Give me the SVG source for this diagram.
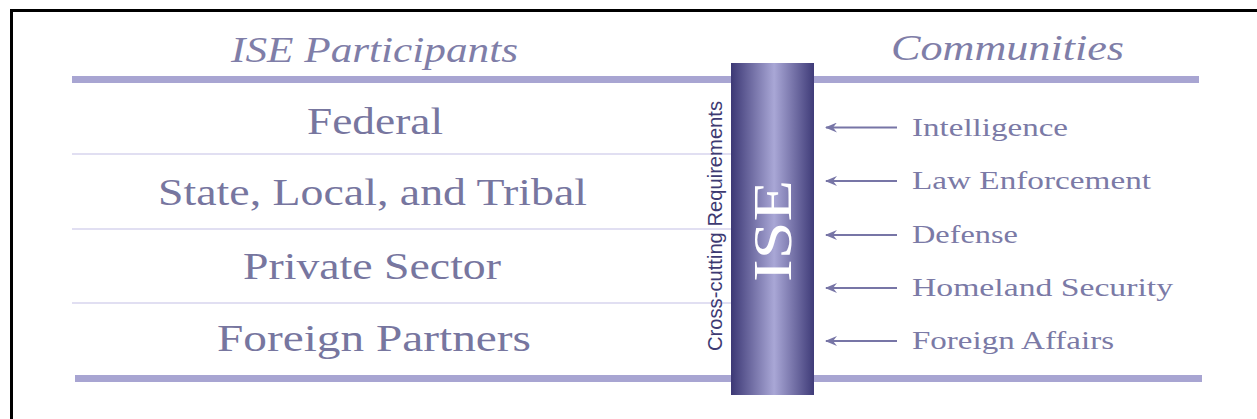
<svg xmlns="http://www.w3.org/2000/svg" width="1257" height="419" viewBox="0 0 1257 419">
  <defs>
    <linearGradient id="colGrad" x1="0" y1="0" x2="1" y2="0">
      <stop offset="0" stop-color="#3c3875"/>
      <stop offset="0.52" stop-color="#a9a7d6"/>
      <stop offset="1" stop-color="#3f3b78"/>
    </linearGradient>
    <marker id="arrow" viewBox="0 0 12 10" refX="1" refY="5" markerWidth="12" markerHeight="10" markerUnits="userSpaceOnUse" orient="auto">
      <path d="M12,0 L0,5 L12,10 L8,5 Z" fill="#7775a6"/>
    </marker>
  </defs>
  <style>
    .frame { stroke: #000; stroke-width: 3; fill: none; }
    .thick { stroke: #a8a5d2; stroke-width: 7; }
    .thin { stroke: #e1dff2; stroke-width: 2; }
    .hdr { font-family: "Liberation Serif", serif; font-style: italic; font-size: 36px; fill: #7f7ea8; }
    .part { font-family: "Liberation Serif", serif; font-size: 37px; fill: #77769f; text-anchor: middle; }
    .comm { font-family: "Liberation Serif", serif; font-size: 26px; fill: #7b7aa6; }
    .conn { stroke: #7775a6; stroke-width: 2; fill: none; marker-start: url(#arrow); }
  </style>
  <rect width="1257" height="419" fill="#ffffff"/>
  <g id="frame">
    <path class="frame" d="M11.5,419 L11.5,10.5 L1257,10.5"/>
  </g>
  <g id="headers">
    <text class="hdr" x="231" y="62" textLength="287" lengthAdjust="spacingAndGlyphs">ISE Participants</text>
    <text class="hdr" x="891" y="60" textLength="233" lengthAdjust="spacingAndGlyphs">Communities</text>
  </g>
  <g id="rules">
    <line class="thin" x1="72" y1="154" x2="732" y2="154"/>
    <line class="thin" x1="72" y1="229" x2="732" y2="229"/>
    <line class="thin" x1="72" y1="303" x2="732" y2="303"/>
    <line class="thick" x1="72" y1="79.5" x2="1199" y2="79.5"/>
    <line class="thick" x1="75" y1="378.5" x2="1202" y2="378.5"/>
  </g>
  <g id="participant-federal">
    <text class="part" x="375" y="134" textLength="136" lengthAdjust="spacingAndGlyphs">Federal</text>
  </g>
  <g id="participant-state">
    <text class="part" x="372.5" y="205" textLength="429" lengthAdjust="spacingAndGlyphs">State, Local, and Tribal</text>
  </g>
  <g id="participant-private">
    <text class="part" x="372" y="279" textLength="258" lengthAdjust="spacingAndGlyphs">Private Sector</text>
  </g>
  <g id="participant-foreign">
    <text class="part" x="374" y="351" textLength="314" lengthAdjust="spacingAndGlyphs">Foreign Partners</text>
  </g>
  <g id="ise-column">
    <rect x="731" y="63" width="83" height="332" fill="url(#colGrad)"/>
    <text x="0" y="0" transform="translate(791,231) rotate(-90)" font-family="Liberation Serif, serif" font-size="54" fill="#ffffff" text-anchor="middle" textLength="102" lengthAdjust="spacingAndGlyphs">ISE</text>
  </g>
  <g id="crosscutting">
    <text x="0" y="0" transform="translate(722,226) rotate(-90)" font-family="Liberation Sans, Arial, sans-serif" font-size="20" fill="#3d3a72" text-anchor="middle" textLength="250" lengthAdjust="spacingAndGlyphs">Cross-cutting Requirements</text>
  </g>
  <g id="connectors">
    <line class="conn" x1="826" y1="127.5" x2="897" y2="127.5"/>
    <line class="conn" x1="826" y1="181" x2="897" y2="181"/>
    <line class="conn" x1="826" y1="235" x2="897" y2="235"/>
    <line class="conn" x1="826" y1="288" x2="897" y2="288"/>
    <line class="conn" x1="826" y1="341" x2="897" y2="341"/>
  </g>
  <g id="community-intelligence">
    <text class="comm" x="912" y="136" textLength="156" lengthAdjust="spacingAndGlyphs">Intelligence</text>
  </g>
  <g id="community-law">
    <text class="comm" x="912" y="189" textLength="239" lengthAdjust="spacingAndGlyphs">Law Enforcement</text>
  </g>
  <g id="community-defense">
    <text class="comm" x="912" y="243" textLength="106" lengthAdjust="spacingAndGlyphs">Defense</text>
  </g>
  <g id="community-homeland">
    <text class="comm" x="912" y="296" textLength="261" lengthAdjust="spacingAndGlyphs">Homeland Security</text>
  </g>
  <g id="community-foreign">
    <text class="comm" x="912" y="349" textLength="202" lengthAdjust="spacingAndGlyphs">Foreign Affairs</text>
  </g>
</svg>
